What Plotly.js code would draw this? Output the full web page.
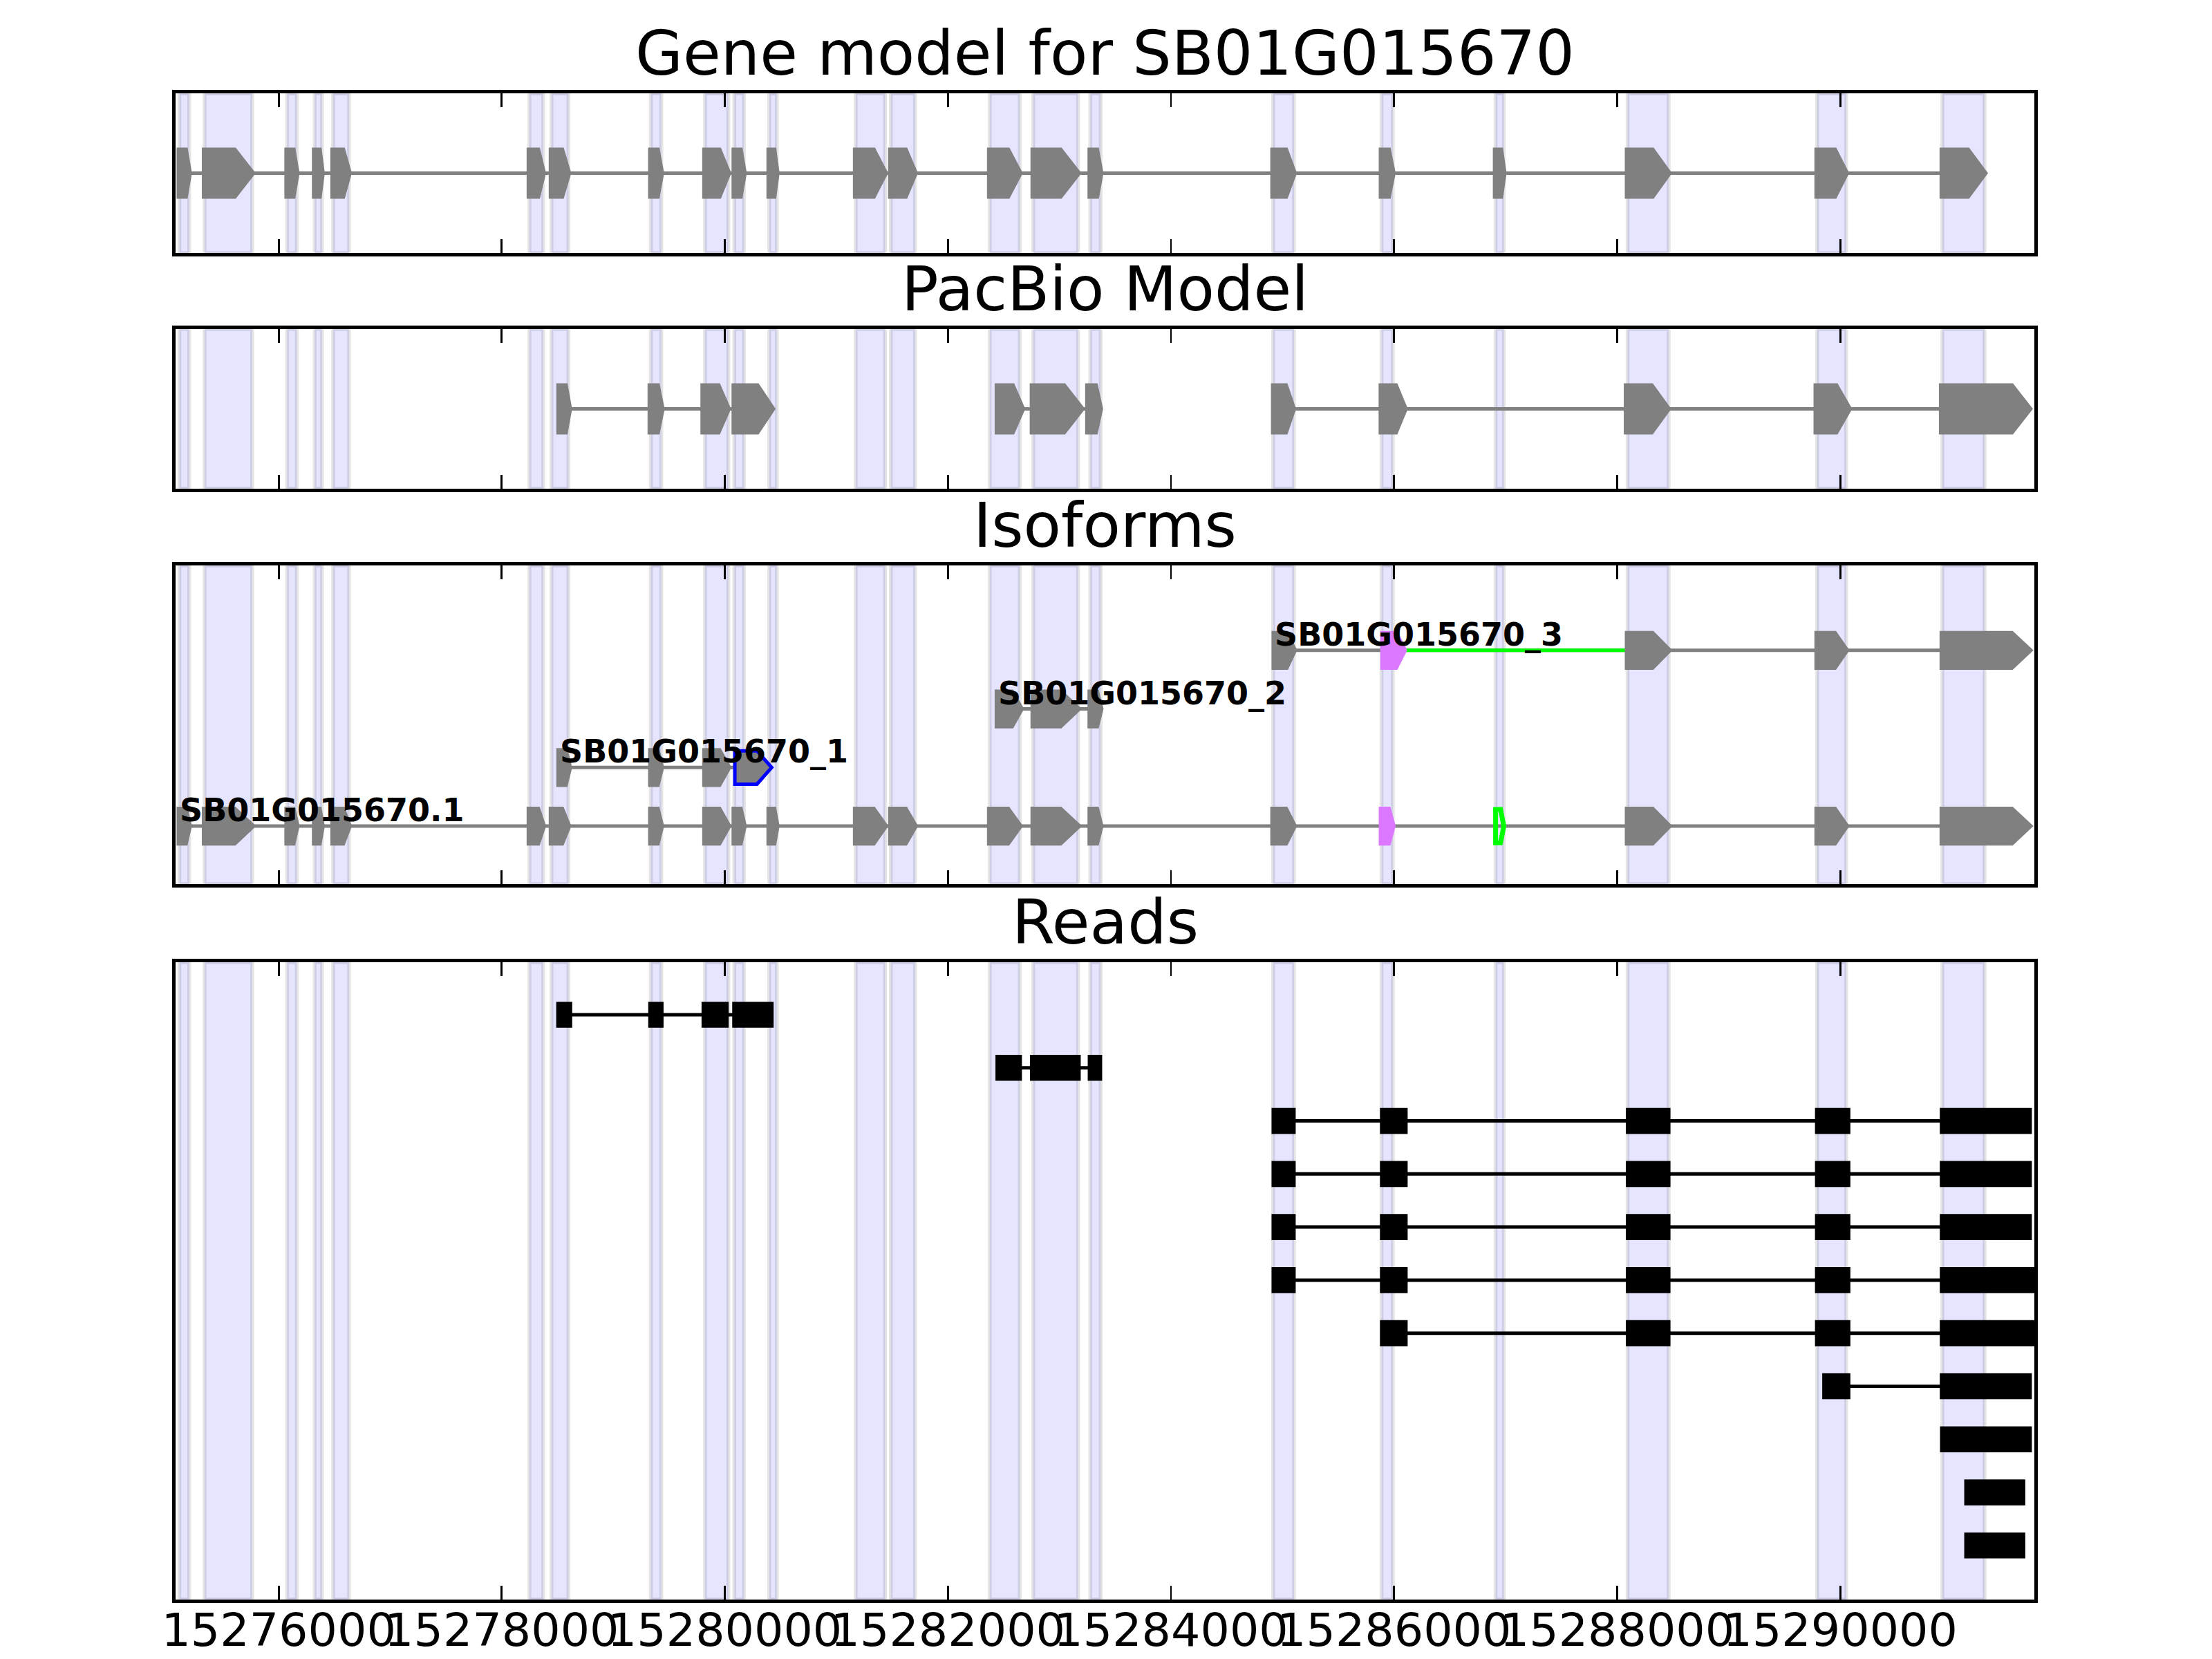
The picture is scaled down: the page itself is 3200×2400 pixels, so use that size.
<!DOCTYPE html>
<html><head><meta charset="utf-8">
<script src="https://cdn.plot.ly/plotly-3.0.1.min.js"></script>
<style>html,body{margin:0;padding:0;background:#fff}</style>
</head><body><div id="chart" style="width:3200px;height:2400px"></div>
<script>
// ---------- data ----------
const xRange = [15275076, 15291740];
const tickVals = [15276000, 15278000, 15280000, 15282000, 15284000, 15286000, 15288000, 15290000];
const panelTitles = ["Gene model for SB01G015670", "PacBio Model", "Isoforms", "Reads"];

// gene model exons (also the highlighted exon regions)
const geneExons = [
  [15275110,15275198],[15275336,15275763],[15276076,15276163],[15276323,15276389],
  [15276488,15276631],[15278248,15278372],[15278446,15278598],[15279337,15279431],
  [15279822,15280032],[15280085,15280172],[15280398,15280466],[15281173,15281437],
  [15281488,15281705],[15282375,15282644],[15282765,15283167],[15283276,15283370],
  [15284915,15285103],[15285887,15285989],[15286910,15286984],[15288093,15288462],
  [15289793,15290053],[15290915,15291294]
];

// PacBio model: three transcripts on one row
const pacbioA = [[15278514,15278606],[15279332,15279436],[15279806,15280029],[15280085,15280426]];
const pacbioB = [[15282444,15282667],[15282758,15283199],[15283255,15283366]];
const pacbioC = [[15284921,15285096],[15285886,15286097],[15288084,15288455],[15289785,15290079],[15290909,15291696]];

// isoforms
const isoNames = ["SB01G015670.1", "SB01G015670_1", "SB01G015670_2", "SB01G015670_3"];
const iso0Exons = [
  [15275110,15275198],[15275336,15275763],[15276076,15276163],[15276323,15276389],
  [15276488,15276631],[15278248,15278372],[15278446,15278598],[15279337,15279431],
  [15279822,15280032],[15280085,15280172],[15280398,15280466],[15281173,15281437],
  [15281488,15281705],[15282375,15282644],[15282765,15283167],[15283276,15283370],
  [15284915,15285103],[15285887,15285989],[15286910,15286984],[15288093,15288462],
  [15289793,15290053],[15290915,15291696]
];
const iso0Kinds = ["g","g","g","g","g","g","g","g","g","g","g","g","g","g","g","g","g","v","n","g","g","g"];
const iso1Exons = [[15278514,15278606],[15279337,15279431],[15279822,15280032],[15280090,15280420]];
const iso1Kinds = ["g","g","g","b"];
const iso2Exons = [[15282444,15282655],[15282765,15283167],[15283276,15283370]];
const iso2Kinds = ["g","g","g"];
const iso3Exons = [[15284926,15285104],[15285901,15286090],[15288093,15288462],[15289793,15290053],[15290915,15291696]];
const iso3Kinds = ["g","v","g","g","g"];
const iso3NovelIntron = [15286090, 15288093];

// reads (one array of blocks per read row)
const read0 = [[15278493,15278627],[15279318,15279446],[15279796,15280030],[15280071,15280433]];
const read1 = [[15282431,15282659],[15282740,15283186],[15283258,15283378]];
const read2 = [[15284906,15285113],[15285878,15286117],[15288083,15288473],[15289778,15290086],[15290897,15291713]];
const read3 = [[15284906,15285113],[15285878,15286117],[15288083,15288473],[15289778,15290086],[15290897,15291713]];
const read4 = [[15284906,15285113],[15285878,15286117],[15288083,15288473],[15289778,15290086],[15290897,15291713]];
const read5 = [[15284906,15285113],[15285878,15286117],[15288083,15288473],[15289778,15290086],[15290897,15291736]];
const read6 = [[15285878,15286117],[15288083,15288473],[15289778,15290086],[15290897,15291736]];
const read7 = [[15289843,15290086],[15290897,15291713]];
const read8 = [[15290899,15291713]];
const read9 = [[15291116,15291654]];
const read10 = [[15291116,15291654]];
const reads = [read0, read1, read2, read3, read4, read5, read6, read7, read8, read9, read10];

// ---------- styling ----------
const GRAY = "#808080", VIOLET = "#DC78FF", GREEN = "#00FF00", BLUE = "#0000FF";
const FONT = "DejaVu Sans";
const EXON_H = 0.285, READ_H = 0.235;

function ax(n){ return n === 1 ? "" : String(n); }

const shapes = [];
const traces = [];
const annotations = [];

// shaded exon regions in all panels
for (let p = 1; p <= 4; p++) {
  geneExons.forEach(([s, e]) => {
    shapes.push({type:"rect", xref:"x"+ax(p), yref:"y"+ax(p)+" domain", x0:s, x1:e, y0:0, y1:1,
      fillcolor:"rgba(0,0,255,0.1)", line:{color:"rgba(0,0,0,0.1)", width:5.5}, layer:"below"});
  });
}

function exonShape(s, e, yc, p, kind) {
  const len = e - s;
  const head = Math.min(0.4 * len, 160);
  const b = e - head;
  let fill = GRAY, lc = GRAY, lw = 8;
  if (kind === "v") { fill = VIOLET; lc = VIOLET; }
  if (kind === "b") { fill = GRAY; lc = BLUE; lw = 5; }
  if (kind === "n") { fill = "rgba(0,0,0,0)"; lc = GREEN; lw = 7; }
  shapes.push({type:"path", xref:"x"+ax(p), yref:"y"+ax(p), layer:"above",
    path:`M${s},${yc-EXON_H}L${b},${yc-EXON_H}L${e},${yc}L${b},${yc+EXON_H}L${s},${yc+EXON_H}Z`,
    fillcolor:fill, line:{color:lc, width:lw}});
}

function transcript(exons, kinds, yc, p) {
  traces.push({type:"scatter", mode:"lines", x:[exons[0][0], exons[exons.length-1][1]], y:[yc, yc],
    xaxis:"x"+ax(p), yaxis:"y"+ax(p), line:{color:GRAY, width:5}, hoverinfo:"skip", showlegend:false});
  exons.forEach((ex, i) => exonShape(ex[0], ex[1], yc, p, kinds ? kinds[i] : "g"));
}

// panel 1: gene model
transcript(geneExons, null, 0, 1);
// panel 2: PacBio
transcript(pacbioA, null, 0, 2);
transcript(pacbioB, null, 0, 2);
transcript(pacbioC, null, 0, 2);
// panel 3: isoforms
const isoExons = [iso0Exons, iso1Exons, iso2Exons, iso3Exons];
const isoKinds = [iso0Kinds, iso1Kinds, iso2Kinds, iso3Kinds];
isoExons.forEach((exs, r) => transcript(exs, isoKinds[r], r, 3));
traces.push({type:"scatter", mode:"lines", x:iso3NovelIntron, y:[3, 3], xaxis:"x3", yaxis:"y3",
  line:{color:GREEN, width:5}, hoverinfo:"skip", showlegend:false});
isoNames.forEach((name, r) => {
  annotations.push({xref:"x3", yref:"y3", x:isoExons[r][0][0], y:r, text:name, showarrow:false,
    xanchor:"left", yanchor:"bottom", yshift:-5, borderpad:0,
    font:{family:FONT, size:46, color:"#000", weight:"bold"}});
});
// panel 4: reads
reads.forEach((blocks, r) => {
  traces.push({type:"scatter", mode:"lines", x:[blocks[0][0], blocks[blocks.length-1][1]], y:[r, r],
    xaxis:"x4", yaxis:"y4", line:{color:"#000", width:5}, hoverinfo:"skip", showlegend:false});
  blocks.forEach(([s, e]) => shapes.push({type:"rect", xref:"x4", yref:"y4", x0:s, x1:e,
    y0:r-READ_H, y1:r+READ_H, fillcolor:"#000", line:{color:"#000", width:1.5}, layer:"above"}));
});

// ---------- layout ----------
const domains = [[0.8940, 1.0], [0.7375, 0.8435], [0.4750, 0.6866], [0.0, 0.4231]];
const yRanges = [[-1, 1], [-1, 1], [-0.99, 4.45], [11.02, -0.99]];

const layout = {
  width:3200, height:2400, paper_bgcolor:"#fff", plot_bgcolor:"#fff",
  margin:{l:254, r:257, t:135, b:86, autoexpand:false},
  showlegend:false, shapes:shapes, annotations:annotations,
  font:{family:FONT, color:"#000"}
};
for (let p = 1; p <= 4; p++) {
  layout["xaxis"+ax(p)] = {domain:[0,1], range:xRange, anchor:"y"+ax(p), tickvals:tickVals,
    tickformat:"d", tickangle:0, ticks:"inside", ticklen:20, tickwidth:2.8, tickcolor:"#000",
    ticklabelstandoff:-18,
    showline:true, linewidth:5, linecolor:"#000", mirror:"ticks", showgrid:false, zeroline:false,
    showticklabels:p === 4, tickfont:{family:FONT, size:66.7, color:"#000"}, automargin:false, fixedrange:true};
  layout["yaxis"+ax(p)] = {domain:domains[p-1], range:yRanges[p-1], anchor:"x"+ax(p),
    showline:true, linewidth:5, linecolor:"#000", mirror:true, ticks:"", showticklabels:false,
    showgrid:false, zeroline:false, automargin:false, fixedrange:true};
  annotations.push({xref:"paper", yref:"paper", x:0.5, y:domains[p-1][1], text:panelTitles[p-1],
    showarrow:false, xanchor:"center", yanchor:"bottom", yshift:5, borderpad:0,
    font:{family:FONT, size:89, color:"#000"}});
}

Plotly.newPlot("chart", traces, layout, {staticPlot:true});
</script>
</body></html>
